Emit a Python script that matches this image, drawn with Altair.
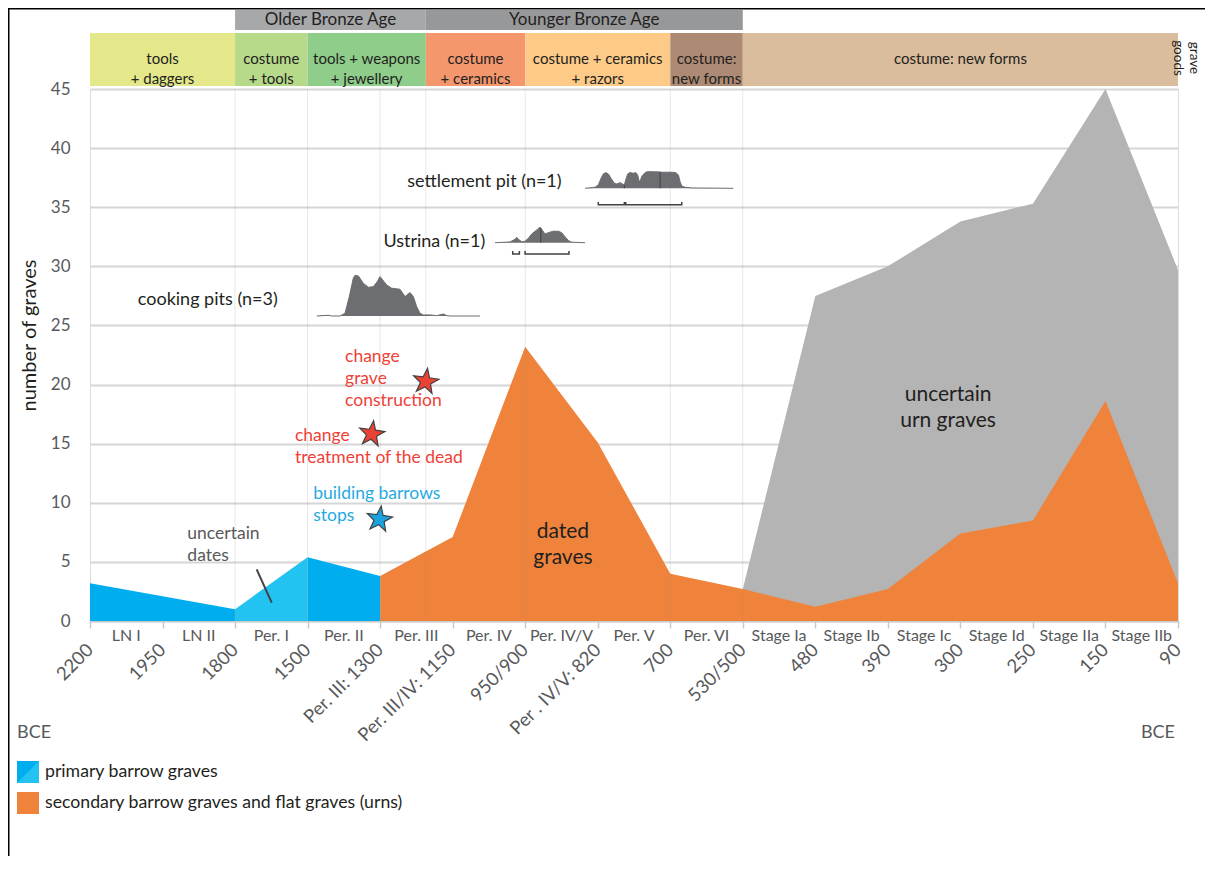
import altair as alt
import pandas as pd

# ---------------- axis categories ----------------
boundary_pos = list(range(16))
boundary_dates = ["2200", "1950", "1800", "1500", "Per. III: 1300", "Per. III/IV: 1150",
                  "950/900", "Per . IV/V: 820", "700", "530/500", "480", "390", "300",
                  "250", "150", "90"]
period_names = ["LN I", "LN II", "Per. I", "Per. II", "Per. III", "Per. IV", "Per. IV/V",
                "Per. V", "Per. VI", "Stage Ia", "Stage Ib", "Stage Ic", "Stage Id",
                "Stage IIa", "Stage IIb"]
period_mid = [i + 0.5 for i in range(15)]
y_ticks = [0, 5, 10, 15, 20, 25, 30, 35, 40, 45]

# ---------------- series ----------------
primary_x = [0, 1, 2, 2, 3, 3, 4]
primary_n = [3.2, 2.1, 1.0, 1.0, 5.4, 5.4, 3.8]
primary_part = ["LN", "LN", "LN", "Per. I", "Per. I", "Per. II", "Per. II"]

secondary_x = [4, 5, 6, 7, 8, 9, 10, 11, 12, 13, 14, 15]
secondary_n = [3.8, 7.1, 23.2, 15.1, 4.0, 2.7, 1.2, 2.7, 7.4, 8.5, 18.6, 3.2]

urn_x = [9, 10, 11, 12, 13, 14, 15]
urn_total = [2.7, 27.5, 30.0, 33.8, 35.3, 45.0, 29.7]

# ---------------- radiocarbon sparklines ----------------
cooking_x = [3.126, 3.286, 3.332, 3.447, 3.516, 3.575, 3.630, 3.654, 3.700, 3.768, 3.837,
             3.906, 3.961, 3.998, 4.035, 4.091, 4.159, 4.274, 4.343, 4.412, 4.458, 4.504,
             4.550, 4.596, 4.688, 4.780, 4.872, 4.918, 4.963, 5.377]
cooking_y = [25.80, 25.86, 25.80, 25.80, 26.03, 27.44, 28.99, 29.24, 29.19, 28.57, 28.23,
             28.28, 28.71, 29.13, 28.85, 28.43, 28.15, 28.06, 27.44, 27.78, 27.44, 26.59,
             26.03, 25.89, 25.89, 25.83, 25.97, 25.83, 25.80, 25.80]
cooking_base = 25.8

ustrina_x = [5.584, 5.791, 5.860, 5.883, 5.906, 5.952, 5.998, 6.044, 6.090, 6.159, 6.204,
             6.227, 6.273, 6.319, 6.388, 6.457, 6.503, 6.549, 6.595, 6.641, 6.825]
ustrina_y = [32.0, 32.06, 32.29, 32.46, 32.29, 32.09, 32.12, 32.38, 32.74, 33.08, 33.31,
             33.14, 32.74, 32.85, 32.97, 32.97, 32.85, 32.51, 32.18, 32.04, 32.0]
ustrina_base = 32.0

settle_x = [6.825, 6.963, 7.008, 7.046, 7.077, 7.110, 7.146, 7.183, 7.229, 7.262, 7.307,
            7.340, 7.367, 7.386, 7.413, 7.445, 7.491, 7.523, 7.550, 7.569, 7.583, 7.606,
            7.643, 7.675, 7.721, 7.790, 7.836, 7.873, 7.928, 8.020, 8.075, 8.112, 8.135,
            8.158, 8.204, 8.296, 8.870]
settle_y = [36.60, 36.69, 36.89, 37.45, 37.82, 37.93, 37.82, 37.45, 37.03, 36.97, 37.08,
            36.97, 36.89, 37.31, 37.82, 37.93, 37.87, 37.93, 37.73, 37.25, 37.17, 37.59,
            37.87, 37.99, 38.01, 37.99, 37.99, 37.96, 37.96, 37.96, 37.93, 37.73, 37.17,
            36.80, 36.69, 36.63, 36.60]
settle_base = 36.6

median_x = [6.215, 7.367, 7.860]
median_lo = [32.0, 36.6, 36.6]
median_hi = [33.25, 36.89, 37.99]

bracket_start = [5.828, 5.998, 7.008, 7.386]
bracket_end = [5.920, 6.604, 7.367, 8.158]
bracket_bottom = [31.05, 31.05, 35.2, 35.2]
bracket_top = [31.3, 31.3, 35.45, 35.45]

# ---------------- header bands ----------------
age_labels = ["Older Bronze Age", "Younger Bronze Age"]
age_start = [2, 4.63]
age_end = [4.63, 9]
age_fill = ["#a7a8aa", "#97989a"]

goods_labels = [["tools", "+ daggers"], ["costume", "+ tools"], ["tools + weapons", "+ jewellery"],
                ["costume", "+ ceramics"], ["costume + ceramics", "+ razors"],
                ["costume:", "new forms"], ["costume: new forms"]]
goods_start = [0, 2, 3, 4.63, 6, 8, 9]
goods_end = [2, 3, 4.63, 6, 8, 9, 15]
goods_fill = ["#e4e88b", "#b6d98a", "#8fcd8b", "#f4976d", "#fdca87", "#ad8a73", "#d9bd9c"]

vline_pos = [2, 3, 4, 4.63, 6, 8, 9]

# ---------------- annotations ----------------
event_text = [["change", "grave", "construction"], ["change", "treatment of the dead"]]
event_x = [3.516, 2.826]
event_y = [22.35, 15.67]
barrow_text = [["building barrows", "stops"]]
barrow_x = [3.078]
barrow_y = [10.74]
unc_text = [["uncertain", "dates"]]
unc_x = [1.342]
unc_y = [7.4]
slash_x = [2.298, 2.505]
slash_y = [4.37, 1.55]
big_text = [["dated", "graves"], ["uncertain", "urn graves"]]
big_x = [6.52, 11.83]
big_y = [7.53, 19.12]
star_x = [4.628, 3.884, 3.989]
star_y = [20.25, 15.82, 8.6]
star_fill = ["#ea4335", "#ea4335", "#1aa3df"]
pit_left_text = ["cooking pits (n=3)"]
pit_left_x = [0.659]
pit_left_y = [27.13]
pit_right_text = ["Ustrina (n=1)", "settlement pit (n=1)"]
pit_right_x = [5.45, 6.502]
pit_right_y = [32.1, 37.17]

legend_labels = ["primary barrow graves", "secondary barrow graves and flat graves (urns)"]

# ---------------- colours ----------------
BLUE = "#00aeef"
BLUE_L = "#22c2f1"
ORANGE = "#f0833b"
GREY = "#b3b4b3"
SPARK = "#6d6e71"
DARK = "#414042"
TXT = "#231f20"
AX = "#58595b"
RED = "#ef4136"
BLUE_T = "#27aae1"
FONT = "Lato"

W, H = 1088, 532

xs = alt.Scale(domain=[0, 15], nice=False, zero=False)
ys = alt.Scale(domain=[0, 45], nice=False, zero=False)

XAXIS = alt.Axis(values=boundary_pos, labels=False, title=None, grid=False,
                 domainColor="#c8c8c8", tickColor="#c8c8c8", tickSize=7,
                 domainWidth=1.5, tickWidth=1.5)
YAXIS = alt.Axis(values=y_ticks, title="number of graves", grid=True,
                 gridColor="#d6d6d6", gridWidth=2, domain=False, ticks=False,
                 labelPadding=20, labelFontSize=17, labelColor=AX, labelFont=FONT,
                 titleFont=FONT, titleFontSize=20, titleFontWeight="normal",
                 titleColor=TXT, titleX=-55, titleY=246, titleBaseline="alphabetic")


def X(f):
    return alt.X(f"{f}:Q", scale=xs, axis=XAXIS)


def Y(f):
    return alt.Y(f"{f}:Q", scale=ys, axis=YAXIS, stack=None)


urn_df = pd.DataFrame({"x": urn_x, "y": urn_total})
urn = alt.Chart(urn_df).mark_area(color=GREY, opacity=1).encode(x=X("x"), y=Y("y"))

sec_df = pd.DataFrame({"x": secondary_x, "y": secondary_n})
secondary = alt.Chart(sec_df).mark_area(color=ORANGE, opacity=1).encode(x=X("x"), y=Y("y"))

prim_df = pd.DataFrame({"x": primary_x, "y": primary_n, "part": primary_part})
primary = alt.Chart(prim_df).mark_area(opacity=1).encode(
    x=X("x"), y=Y("y"),
    color=alt.Color("part:N", scale=alt.Scale(domain=["LN", "Per. I", "Per. II"],
                                              range=[BLUE, BLUE_L, BLUE]), legend=None),
    detail="part:N",
)

vl_df = pd.DataFrame({"x": vline_pos, "lo": [0] * len(vline_pos), "hi": [45] * len(vline_pos)})
vlines = alt.Chart(vl_df).mark_rule(color="#8a8a8a", opacity=0.2, strokeWidth=1).encode(
    x=X("x"), y=Y("lo"), y2="hi:Q")

spark_df = pd.concat([
    pd.DataFrame({"x": cooking_x, "y": cooking_y, "base": cooking_base, "g": "cooking"}),
    pd.DataFrame({"x": ustrina_x, "y": ustrina_y, "base": ustrina_base, "g": "ustrina"}),
    pd.DataFrame({"x": settle_x, "y": settle_y, "base": settle_base, "g": "settle"}),
])
spark = alt.Chart(spark_df).mark_area(color=SPARK, opacity=1,
                                      line={"color": SPARK, "strokeWidth": 1}).encode(
    x=X("x"), y=Y("y"), y2="base:Q", detail="g:N")

med_df = pd.DataFrame({"x": median_x, "lo": median_lo, "hi": median_hi})
medians = alt.Chart(med_df).mark_rule(color=DARK, strokeWidth=1).encode(
    x=X("x"), y=Y("lo"), y2="hi:Q")

br_rows = []
for i, (a, b, lo, hi) in enumerate(zip(bracket_start, bracket_end, bracket_bottom, bracket_top)):
    br_rows += [{"id": i, "o": 0, "x": a, "y": hi}, {"id": i, "o": 1, "x": a, "y": lo},
                {"id": i, "o": 2, "x": b, "y": lo}, {"id": i, "o": 3, "x": b, "y": hi}]
brackets = alt.Chart(pd.DataFrame(br_rows)).mark_line(color=DARK, strokeWidth=1.5).encode(
    x=X("x"), y=Y("y"), detail="id:N", order="o:Q")

per_df = pd.DataFrame({"x": period_mid, "t": period_names})
per_lab = alt.Chart(per_df).mark_text(fontSize=16, color=AX, font=FONT, baseline="middle").encode(
    x=X("x"), y=alt.value(547), text="t:N")

date_df = pd.DataFrame({"x": boundary_pos, "t": boundary_dates})
date_lab = alt.Chart(date_df).mark_text(fontSize=18.5, color=AX, font=FONT, angle=315,
                                        align="right", baseline="middle").encode(
    x=X("x"), y=alt.value(558), text="t:N")

bce_df = pd.DataFrame({"t": ["BCE"]})
bce_l = alt.Chart(bce_df).mark_text(fontSize=18, color=AX, font=FONT, align="left",
                                    baseline="middle").encode(
    x=alt.value(-73), y=alt.value(644), text="t:N")
bce_r = alt.Chart(bce_df).mark_text(fontSize=18, color=AX, font=FONT, align="right",
                                    baseline="middle").encode(
    x=alt.value(W - 3), y=alt.value(644), text="t:N")

age_df = pd.DataFrame({"s": age_start, "e": age_end, "t": age_labels, "f": age_fill})
age_rect = alt.Chart(age_df).mark_rect().encode(
    x=X("s"), x2="e:Q", y=alt.value(-79), y2=alt.value(-59), color=alt.Color("f:N", scale=None))
age_txt = alt.Chart(age_df).transform_calculate(m="(datum.s + datum.e) / 2").mark_text(
    fontSize=17, color=TXT, font=FONT, baseline="middle").encode(
    x=X("m"), y=alt.value(-69), text="t:N")

goods_df = pd.DataFrame({"s": goods_start, "e": goods_end, "t": goods_labels, "f": goods_fill})
goods_rect = alt.Chart(goods_df).mark_rect().encode(
    x=X("s"), x2="e:Q", y=alt.value(-56), y2=alt.value(-3), color=alt.Color("f:N", scale=None))
goods_txt = alt.Chart(goods_df).transform_calculate(m="(datum.s + datum.e) / 2").mark_text(
    fontSize=15, color=TXT, font=FONT, baseline="middle", lineHeight=20).encode(
    x=X("m"), y=alt.value(-30.5), text="t")

gg_df = pd.DataFrame({"t": [["grave", "goods"]]})
gg_txt = alt.Chart(gg_df).mark_text(fontSize=13.5, color=TXT, font=FONT, angle=90, align="center",
                                    baseline="middle", lineHeight=16).encode(
    x=alt.value(W + 16), y=alt.value(-31), text="t")

ev_df = pd.DataFrame({"x": event_x, "y": event_y, "t": event_text})
ev_txt = alt.Chart(ev_df).mark_text(fontSize=17.5, color=RED, font=FONT, align="left",
                                    lineHeight=22).encode(x=X("x"), y=Y("y"), text="t")
bar_df = pd.DataFrame({"x": barrow_x, "y": barrow_y, "t": barrow_text})
bar_txt = alt.Chart(bar_df).mark_text(fontSize=17.5, color=BLUE_T, font=FONT, align="left",
                                      lineHeight=22).encode(x=X("x"), y=Y("y"), text="t")
unc_df = pd.DataFrame({"x": unc_x, "y": unc_y, "t": unc_text})
unc_txt = alt.Chart(unc_df).mark_text(fontSize=17.5, color=AX, font=FONT, align="left",
                                      lineHeight=22).encode(x=X("x"), y=Y("y"), text="t")
big_df = pd.DataFrame({"x": big_x, "y": big_y, "t": big_text})
big_txt = alt.Chart(big_df).mark_text(fontSize=21, color=TXT, font=FONT, align="center",
                                      lineHeight=26).encode(x=X("x"), y=Y("y"), text="t")
pl_df = pd.DataFrame({"x": pit_left_x, "y": pit_left_y, "t": pit_left_text})
pl_txt = alt.Chart(pl_df).mark_text(fontSize=18, color=TXT, font=FONT, align="left").encode(
    x=X("x"), y=Y("y"), text="t:N")
pr_df = pd.DataFrame({"x": pit_right_x, "y": pit_right_y, "t": pit_right_text})
pr_txt = alt.Chart(pr_df).mark_text(fontSize=18, color=TXT, font=FONT, align="right").encode(
    x=X("x"), y=Y("y"), text="t:N")

slash_df = pd.DataFrame({"x": slash_x, "y": slash_y})
slash = alt.Chart(slash_df).mark_line(color=DARK, strokeWidth=2).encode(x=X("x"), y=Y("y"))

STAR = ("M0,-1L0.235,-0.324L0.951,-0.309L0.380,0.124L0.588,0.809L0,0.4L-0.588,0.809"
        "L-0.380,0.124L-0.951,-0.309L-0.235,-0.324Z")
star_df = pd.DataFrame({"x": star_x, "y": star_y, "f": star_fill})
stars = alt.Chart(star_df).mark_point(shape=STAR, size=720, filled=True, opacity=1,
                                      stroke=DARK, strokeWidth=1.2, angle=8).encode(
    x=X("x"), y=Y("y"), fill=alt.Fill("f:N", scale=None))

one = pd.DataFrame({"k": [0]})
lg_blue = alt.Chart(one).mark_rect(color=BLUE_L).encode(
    x=alt.value(-73), x2=alt.value(-51), y=alt.value(672), y2=alt.value(694))
lg_blue_tri = alt.Chart(one).mark_point(shape="M-1,-1L1,-1L-1,1Z", size=484, filled=True,
                                        opacity=1, color=BLUE, strokeWidth=0).encode(
    x=alt.value(-62), y=alt.value(683))
lg_orange = alt.Chart(one).mark_rect(color=ORANGE).encode(
    x=alt.value(-73), x2=alt.value(-51), y=alt.value(703), y2=alt.value(725))
lg_txt = [
    alt.Chart(pd.DataFrame({"t": [lab]})).mark_text(
        fontSize=17.7, color=TXT, font=FONT, align="left", baseline="middle").encode(
        x=alt.value(-45), y=alt.value(yy), text="t:N")
    for lab, yy in zip(legend_labels, [683, 714])
]

frame_top = alt.Chart(one).mark_rule(color="#000000", strokeWidth=1.5).encode(
    x=alt.value(-82), x2=alt.value(W + 27), y=alt.value(-80.25))
frame_left = alt.Chart(one).mark_rule(color="#000000", strokeWidth=1.5).encode(
    x=alt.value(-81.25), y=alt.value(-81), y2=alt.value(H + 235))

chart = alt.layer(
    urn, secondary, primary, vlines, spark, medians, brackets,
    per_lab, date_lab, bce_l, bce_r,
    age_rect, age_txt, goods_rect, goods_txt, gg_txt,
    ev_txt, bar_txt, unc_txt, big_txt, pl_txt, pr_txt, slash, stars,
    lg_blue, lg_blue_tri, lg_orange, *lg_txt, frame_top, frame_left,
).properties(
    width=W, height=H,
    autosize=alt.AutoSizeParams(type="none"),
    padding={"left": 82, "top": 81, "right": 27, "bottom": 235},
).configure_view(stroke=None).configure(font=FONT)

chart.save("out.html", embed_options={"renderer": "svg", "actions": False})
